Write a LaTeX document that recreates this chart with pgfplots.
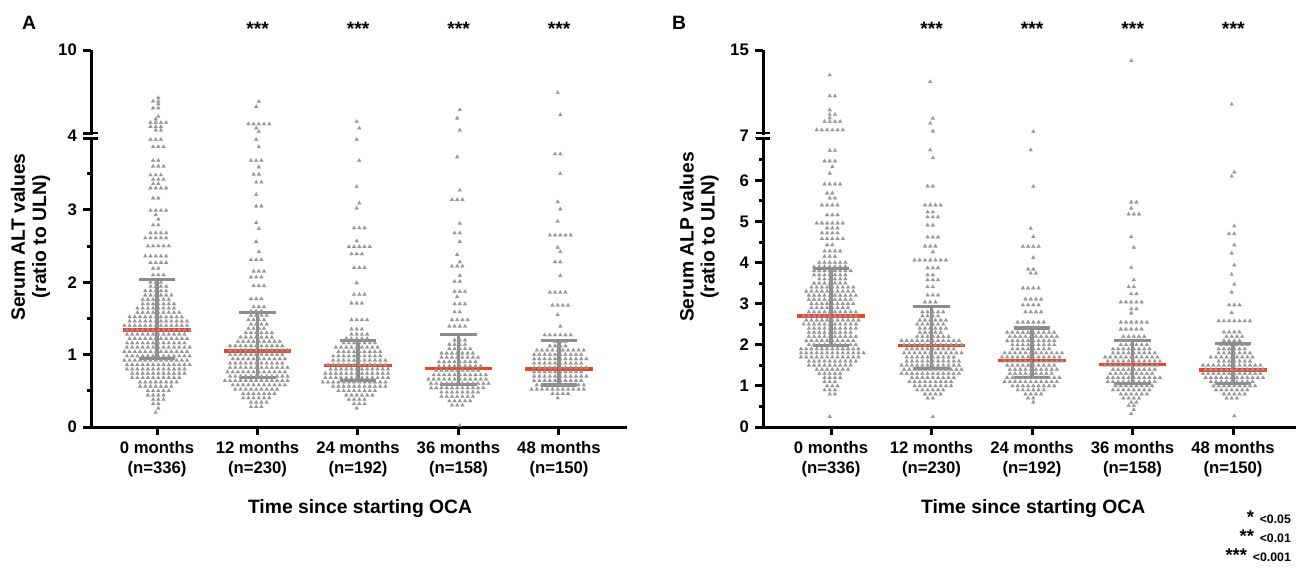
\documentclass[border=0pt]{standalone}
\usepackage{fontspec}
\setmainfont{Liberation Sans}
\usepackage{pgfplots}
\usepackage{pgfplotstable}
\pgfplotsset{compat=1.18}

\definecolor{ptgray}{RGB}{150,150,150}
\definecolor{bargray}{RGB}{140,140,140}
\definecolor{medred}{RGB}{235,68,42}

\newcommand\tickfont{\fontsize{9.5}{11.4}\selectfont\bfseries}
\newcommand\labfont{\fontsize{11}{12}\selectfont\bfseries}

% g = group (0..4), y = value, n = points side by side in that row
\pgfplotstableread{
g y n
0 0.20 1
0 0.26 1
0 0.32 2
0 0.38 3
0 0.44 4
0 0.50 5
0 0.56 7
0 0.62 8
0 0.68 10
0 0.74 11
0 0.80 12
0 0.86 13
0 0.92 13
0 0.98 13
0 1.04 13
0 1.10 13
0 1.16 12
0 1.22 12
0 1.28 12
0 1.34 13
0 1.40 13
0 1.46 12
0 1.52 11
0 1.58 9
0 1.64 8
0 1.70 7
0 1.76 6
0 1.82 6
0 1.88 5
0 1.94 4
0 2.00 3
0 2.10 3
0 2.19 2
0 2.27 4
0 2.36 5
0 2.50 5
0 2.61 5
0 2.68 4
0 2.79 2
0 2.87 1
0 2.93 1
0 2.99 4
0 3.16 2
0 3.30 4
0 3.36 2
0 3.42 3
0 3.48 3
0 3.60 3
0 3.68 2
0 3.87 3
0 3.97 3
0 4.20 2
0 4.45 3
0 4.75 4
0 5.00 1
0 5.20 1
0 5.80 2
0 6.10 1
0 6.30 2
0 6.55 1
1 0.28 3
1 0.34 4
1 0.40 6
1 0.46 7
1 0.52 9
1 0.58 11
1 0.64 13
1 0.70 12
1 0.76 12
1 0.82 12
1 0.88 11
1 0.94 11
1 1.00 11
1 1.06 12
1 1.12 11
1 1.18 9
1 1.24 7
1 1.30 6
1 1.36 4
1 1.42 4
1 1.48 4
1 1.54 4
1 1.60 3
1 1.66 3
1 1.77 3
1 1.95 3
1 2.07 3
1 2.15 3
1 2.31 3
1 2.42 1
1 2.56 1
1 2.74 1
1 2.82 1
1 3.05 2
1 3.21 1
1 3.38 2
1 3.49 2
1 3.59 1
1 3.68 3
1 3.87 1
1 3.97 1
1 4.10 1
1 4.35 1
1 4.65 5
1 5.90 1
1 6.27 1
2 0.26 1
2 0.32 3
2 0.38 4
2 0.44 6
2 0.50 8
2 0.56 11
2 0.62 14
2 0.68 14
2 0.74 13
2 0.80 12
2 0.86 12
2 0.92 11
2 0.98 10
2 1.04 9
2 1.10 9
2 1.16 7
2 1.22 5
2 1.28 4
2 1.35 3
2 1.48 4
2 1.71 3
2 1.83 3
2 1.99 1
2 2.20 3
2 2.39 3
2 2.49 5
2 2.57 1
2 2.75 3
2 3.02 1
2 3.09 1
2 3.32 1
2 3.68 1
2 3.97 1
2 4.35 1
2 4.82 1
3 0.02 1
3 0.30 3
3 0.36 5
3 0.42 7
3 0.48 8
3 0.54 11
3 0.60 12
3 0.66 12
3 0.72 11
3 0.78 9
3 0.84 9
3 0.90 8
3 0.96 8
3 1.02 7
3 1.08 5
3 1.14 4
3 1.20 3
3 1.39 4
3 1.48 4
3 1.59 2
3 1.70 3
3 1.80 1
3 1.87 3
3 2.01 2
3 2.09 1
3 2.22 3
3 2.28 1
3 2.38 1
3 2.56 1
3 2.68 2
3 2.81 1
3 3.14 3
3 3.27 1
3 3.73 1
3 4.20 1
3 5.07 1
3 5.67 1
4 0.40 1
4 0.46 4
4 0.52 11
4 0.58 10
4 0.64 10
4 0.70 11
4 0.76 10
4 0.82 11
4 0.88 10
4 0.94 11
4 1.00 10
4 1.06 10
4 1.12 4
4 1.18 3
4 1.27 6
4 1.39 1
4 1.55 1
4 1.68 4
4 1.86 4
4 2.09 1
4 2.28 2
4 2.42 1
4 2.48 1
4 2.65 5
4 2.84 1
4 3.01 1
4 3.11 1
4 3.50 1
4 3.77 2
4 5.31 1
4 6.92 1
}\ptsA

\pgfplotstableread{
g y n
0 0.25 1
0 0.80 2
0 0.90 3
0 1.00 3
0 1.10 3
0 1.20 4
0 1.30 5
0 1.40 7
0 1.50 9
0 1.60 10
0 1.70 12
0 1.80 13
0 1.90 12
0 2.00 10
0 2.10 10
0 2.20 10
0 2.30 9
0 2.40 10
0 2.50 11
0 2.60 11
0 2.70 11
0 2.80 10
0 2.90 8
0 3.00 9
0 3.10 9
0 3.20 10
0 3.30 10
0 3.40 9
0 3.50 7
0 3.60 6
0 3.70 7
0 3.80 8
0 3.90 7
0 4.00 6
0 4.15 3
0 4.28 4
0 4.43 2
0 4.58 5
0 4.72 4
0 4.84 3
0 4.96 6
0 5.16 3
0 5.40 4
0 5.57 2
0 5.69 2
0 5.91 4
0 6.17 1
0 6.33 1
0 6.47 3
0 6.73 2
0 7.29 6
0 8.10 4
0 8.45 1
0 8.78 2
0 9.22 1
0 10.57 2
0 12.59 1
1 0.25 1
1 0.70 2
1 0.80 4
1 0.90 6
1 1.00 8
1 1.10 9
1 1.20 9
1 1.30 12
1 1.40 12
1 1.50 12
1 1.60 11
1 1.70 10
1 1.80 12
1 1.90 10
1 2.00 12
1 2.10 12
1 2.20 7
1 2.30 5
1 2.40 6
1 2.50 6
1 2.60 6
1 2.70 4
1 2.80 5
1 3.04 3
1 3.21 3
1 3.41 2
1 3.58 3
1 3.70 2
1 3.87 3
1 4.06 7
1 4.26 1
1 4.40 3
1 4.62 3
1 4.91 2
1 5.11 3
1 5.23 2
1 5.40 4
1 5.86 2
1 6.55 1
1 6.74 1
1 7.18 1
1 7.94 1
1 8.41 1
1 11.94 1
2 0.60 1
2 0.70 2
2 0.80 4
2 0.90 6
2 1.00 9
2 1.10 11
2 1.20 11
2 1.30 9
2 1.40 10
2 1.50 10
2 1.60 12
2 1.70 12
2 1.80 12
2 1.90 8
2 2.00 9
2 2.10 10
2 2.20 10
2 2.30 10
2 2.42 3
2 2.55 6
2 2.80 4
2 2.97 4
2 3.11 4
2 3.38 4
2 3.74 2
2 3.84 2
2 4.12 1
2 4.39 4
2 4.63 1
2 4.83 1
2 5.85 1
2 6.74 1
2 7.13 1
3 0.32 1
3 0.42 1
3 0.52 2
3 0.60 2
3 0.70 4
3 0.80 6
3 0.90 8
3 1.00 8
3 1.10 10
3 1.20 11
3 1.30 9
3 1.40 9
3 1.50 11
3 1.60 11
3 1.70 11
3 1.80 9
3 1.90 8
3 2.00 6
3 2.10 5
3 2.20 5
3 2.38 5
3 2.55 6
3 2.77 1
3 2.87 2
3 3.04 5
3 3.24 2
3 3.41 2
3 3.58 1
3 3.88 1
3 4.37 1
3 4.63 1
3 5.18 3
3 5.32 1
3 5.47 2
3 13.96 1
4 0.27 1
4 0.70 3
4 0.80 5
4 0.90 7
4 1.00 9
4 1.10 9
4 1.20 12
4 1.30 12
4 1.40 12
4 1.50 12
4 1.60 7
4 1.70 9
4 1.80 7
4 1.90 6
4 2.00 6
4 2.10 4
4 2.20 4
4 2.31 4
4 2.58 7
4 2.78 1
4 2.97 3
4 3.28 1
4 3.47 1
4 3.71 1
4 3.94 1
4 4.23 1
4 4.43 1
4 4.70 2
4 4.89 1
4 6.10 1
4 6.20 1
4 9.77 1
}\ptsB

\pgfplotsset{
  swarm/.style={only marks, mark=triangle*, mark size=1.25pt,
    mark options={fill=ptgray, draw=ptgray, line width=0.1pt}, forget plot},
  iqr/.style={bargray, line width=0.075cm, forget plot},
  cap/.style={bargray, line width=0.065cm, forget plot},
  med/.style={medred, line width=0.065cm, forget plot},
  panel/.style={
    scale only axis, anchor=south west, clip=false,
    axis x line*=bottom, axis y line*=left,
    axis line style={line width=0.06cm, black},
    tick style={line width=0.06cm, black},
    tick align=outside, major tick length=0.16cm, minor tick length=0.09cm,
    ymin=0,
    xtick={0,...,4},
    xticklabels={{0 months\\(n=336)},{12 months\\(n=230)},{24 months\\(n=192)},{36 months\\(n=158)},{48 months\\(n=150)}},
    xticklabel style={align=center, font=\tickfont},
    yticklabel style={font=\tickfont},
    /pgf/number format/assume math mode=true,
  },
}

\begin{document}
\begin{tikzpicture}
\path[use as bounding box] (0,0) rectangle (26.02cm,-11.40cm);

% ---------- panel A : ALT ----------
\begin{axis}[panel,
  at={(1.82cm,-8.54cm)}, width=10.72cm, height=7.54cm,
  xmin=-0.657, xmax=4.677, ymax=5.207,
  ytick={0,1,2,3,4.02,5.207}, yticklabels={0,1,2,3,4,10},
  minor ytick={0.5,1.5,2.5,3.5},
]
\pgfplotsinvokeforeach{0,...,12}{
  \addplot[swarm, restrict expr to domain={\thisrow{n}-#1}{0.5:50}]
    table[x expr={\thisrow{g}+(#1-0.5*(\thisrow{n}-1))*0.052+0.013*(2*mod(\coordindex,2)-1)},
          y expr={\thisrow{y}>4 ? 4.061+(\thisrow{y}-4)*0.191 : \thisrow{y}}] {\ptsA};
}
% median and interquartile range
\addplot[iqr] coordinates {(0,0.95)(0,2.04)};
\addplot[cap] coordinates {(-0.18,0.95)(0.18,0.95)};
\addplot[cap] coordinates {(-0.18,2.04)(0.18,2.04)};
\addplot[iqr] coordinates {(1,0.68)(1,1.58)};
\addplot[cap] coordinates {(0.82,0.68)(1.18,0.68)};
\addplot[cap] coordinates {(0.82,1.58)(1.18,1.58)};
\addplot[iqr] coordinates {(2,0.64)(2,1.19)};
\addplot[cap] coordinates {(1.82,0.64)(2.18,0.64)};
\addplot[cap] coordinates {(1.82,1.19)(2.18,1.19)};
\addplot[iqr] coordinates {(3,0.59)(3,1.28)};
\addplot[cap] coordinates {(2.82,0.59)(3.18,0.59)};
\addplot[cap] coordinates {(2.82,1.28)(3.18,1.28)};
\addplot[iqr] coordinates {(4,0.58)(4,1.19)};
\addplot[cap] coordinates {(3.82,0.58)(4.18,0.58)};
\addplot[cap] coordinates {(3.82,1.19)(4.18,1.19)};
\addplot[med] coordinates {(-0.335,1.34)(0.335,1.34)};
\addplot[med] coordinates {(0.665,1.05)(1.335,1.05)};
\addplot[med] coordinates {(1.665,0.85)(2.335,0.85)};
\addplot[med] coordinates {(2.665,0.81)(3.335,0.81)};
\addplot[med] coordinates {(3.665,0.80)(4.335,0.80)};
\end{axis}

% ---------- panel B : ALP ----------
\begin{axis}[panel,
  at={(15.26cm,-8.54cm)}, width=10.66cm, height=7.54cm,
  xmin=-0.677, xmax=4.627, ymax=9.173,
  ytick={0,1,2,3,4,5,6,7.08,9.173}, yticklabels={0,1,2,3,4,5,6,7,15},
  minor ytick={0.5,1.5,2.5,3.5,4.5,5.5,6.5},
]
\pgfplotsinvokeforeach{0,...,12}{
  \addplot[swarm, restrict expr to domain={\thisrow{n}-#1}{0.5:50}]
    table[x expr={\thisrow{g}+(#1-0.5*(\thisrow{n}-1))*0.052+0.013*(2*mod(\coordindex,2)-1)},
          y expr={\thisrow{y}>7 ? 7.153+(\thisrow{y}-7)*0.2525 : \thisrow{y}}] {\ptsB};
}
\addplot[iqr] coordinates {(0,1.98)(0,3.86)};
\addplot[cap] coordinates {(-0.18,1.98)(0.18,1.98)};
\addplot[cap] coordinates {(-0.18,3.86)(0.18,3.86)};
\addplot[iqr] coordinates {(1,1.43)(1,2.93)};
\addplot[cap] coordinates {(0.82,1.43)(1.18,1.43)};
\addplot[cap] coordinates {(0.82,2.93)(1.18,2.93)};
\addplot[iqr] coordinates {(2,1.21)(2,2.41)};
\addplot[cap] coordinates {(1.82,1.21)(2.18,1.21)};
\addplot[cap] coordinates {(1.82,2.41)(2.18,2.41)};
\addplot[iqr] coordinates {(3,1.05)(3,2.10)};
\addplot[cap] coordinates {(2.82,1.05)(3.18,1.05)};
\addplot[cap] coordinates {(2.82,2.10)(3.18,2.10)};
\addplot[iqr] coordinates {(4,1.05)(4,2.04)};
\addplot[cap] coordinates {(3.82,1.05)(4.18,1.05)};
\addplot[cap] coordinates {(3.82,2.04)(4.18,2.04)};
\addplot[med] coordinates {(-0.335,2.70)(0.335,2.70)};
\addplot[med] coordinates {(0.665,1.99)(1.335,1.99)};
\addplot[med] coordinates {(1.665,1.61)(2.335,1.61)};
\addplot[med] coordinates {(2.665,1.52)(3.335,1.52)};
\addplot[med] coordinates {(3.665,1.39)(4.335,1.39)};
\end{axis}

% ---------- text and axis breaks (pixel units, y down) ----------
\begin{scope}[x=0.02cm, y=-0.02cm]
  % breaks
  \fill[white] (81,134.6) rectangle (99,137.2);
  \draw[line width=0.05cm] (83,133.2) -- (98,133.2) (83,138.6) -- (98,138.6);
  \fill[white] (753,134.6) rectangle (771,137.2);
  \draw[line width=0.05cm] (756,133.2) -- (770,133.2) (756,138.6) -- (770,138.6);

  \node[font=\labfont] at (29,23) {A};
  \node[font=\labfont] at (679,23) {B};

  \foreach \xx in {257.5,358,458.5,559,931.5,1032,1132.5,1233}
    \node[font=\labfont, anchor=north, inner sep=0pt] at (\xx,21.5) {***};

  \node[rotate=90, align=center, font=\labfont] at (30.5,237) {Serum ALT values\\(ratio to ULN)};
  \node[rotate=90, align=center, font=\labfont] at (699,237) {Serum ALP values\\(ratio to ULN)};

  \node[font=\labfont] at (360,508) {Time since starting OCA};
  \node[font=\labfont] at (1033,508) {Time since starting OCA};

  \node[anchor=base east, inner sep=0pt] at (1291,523)
    {\bfseries{\fontsize{10.5}{10}\selectfont *}\,\,{\fontsize{7}{7}\selectfont <0.05}};
  \node[anchor=base east, inner sep=0pt] at (1291,542)
    {\bfseries{\fontsize{10.5}{10}\selectfont **}\,\,{\fontsize{7}{7}\selectfont <0.01}};
  \node[anchor=base east, inner sep=0pt] at (1291,561)
    {\bfseries{\fontsize{10.5}{10}\selectfont ***}\,\,{\fontsize{7}{7}\selectfont <0.001}};
\end{scope}
\end{tikzpicture}
\end{document}
